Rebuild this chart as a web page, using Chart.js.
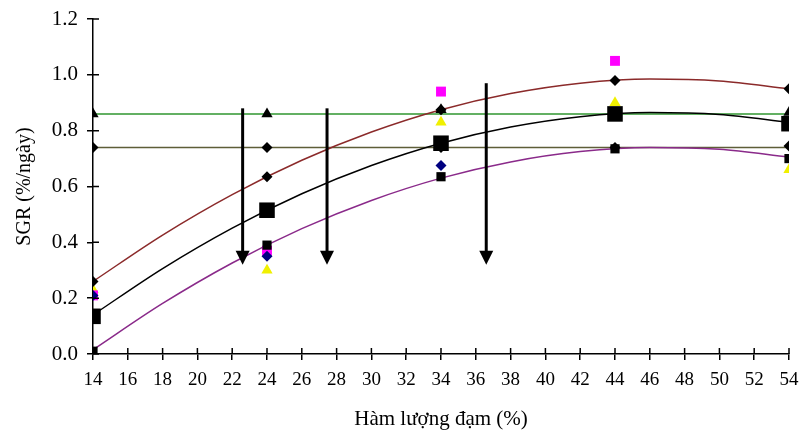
<!DOCTYPE html>
<html>
<head>
<meta charset="utf-8">
<script src="https://cdn.jsdelivr.net/npm/chart.js@4/dist/chart.umd.min.js"></script>
<style>
    html, body { margin: 0; padding: 0; background: #fff; overflow: hidden; }
    canvas { display: block; }
</style>
</head>
<body>
<canvas id="sgrChart" width="800" height="434"></canvas>
<script>
// Protein levels tested (%)
const proteinLevels = [14, 24, 34, 44, 54];

// Measured SGR points, one array per marker style
const blackDiamonds = [0.26, 0.635, 0.875, 0.98, 0.95];
const bigSquares = [0.135, 0.515, 0.755, 0.86, 0.825];
const smallSquares = [0.01, 0.39, 0.635, 0.735, 0.70];
const magentaSquares = [0.21, 0.37, 0.94, 1.05, null];
const yellowTriangles = [0.23, 0.30, 0.83, 0.90, 0.66];
const blueDiamonds = [0.21, 0.35, 0.675, null, null];
const plateauTriangles = [0.86, 0.86, 0.875, 0.86, 0.865];
const plateauDiamonds = [0.74, 0.74, 0.74, 0.74, 0.745];

// Fitted curves
const curveX = [14, 18, 22, 26, 30, 34, 38, 42, 46, 50, 54];
const upperCurve = [0.26, 0.426, 0.571, 0.694, 0.795, 0.875, 0.933, 0.970, 0.985, 0.978, 0.95];
const middleCurve = [0.14, 0.306, 0.451, 0.574, 0.675, 0.755, 0.813, 0.850, 0.865, 0.858, 0.83];
const lowerCurve = [0.015, 0.181, 0.326, 0.449, 0.550, 0.630, 0.688, 0.725, 0.740, 0.733, 0.705];

// Horizontal plateau lines
const plateauHigh = 0.86;
const plateauLow = 0.74;

// Down arrows: x position, top and tip (SGR units)
const arrowX = [22.6, 27.45, 36.6];
const arrowTop = [0.88, 0.88, 0.97];
const arrowTip = [0.32, 0.32, 0.32];

const serif = '"Liberation Serif", "Times New Roman", serif';

function toPoints(xs, ys) {
    return xs.map((x, i) => ({ x: x, y: ys[i] }));
}

function markerSet(values, style, radius, color) {
    return {
        data: toPoints(proteinLevels, values),
        showLine: false,
        pointStyle: style,
        pointRadius: radius,
        pointBackgroundColor: color,
        pointBorderColor: color,
        pointBorderWidth: 0
    };
}

function lineSet(xs, ys, color, width) {
    return {
        data: toPoints(xs, ys),
        showLine: true,
        borderColor: color,
        borderWidth: width,
        pointRadius: 0,
        tension: 0.4,
        cubicInterpolationMode: 'monotone',
        fill: false
    };
}

// Inner tick halves and the arrows
const extrasPlugin = {
    id: 'extras',
    afterDatasetsDraw(chart) {
        const { ctx, scales: { x, y } } = chart;
        ctx.save();
        ctx.strokeStyle = '#000';
        ctx.lineWidth = 1.5;
        ctx.beginPath();
        y.ticks.forEach(t => {
            const py = y.getPixelForValue(t.value);
            ctx.moveTo(x.left, py);
            ctx.lineTo(x.left + 6, py);
        });
        x.ticks.forEach(t => {
            const px = x.getPixelForValue(t.value);
            ctx.moveTo(px, y.bottom);
            ctx.lineTo(px, y.bottom - 6);
        });
        ctx.stroke();

        ctx.fillStyle = '#000';
        ctx.lineWidth = 3;
        arrowX.forEach((ax, i) => {
            const px = x.getPixelForValue(ax);
            const top = y.getPixelForValue(arrowTop[i]);
            const tip = y.getPixelForValue(arrowTip[i]);
            ctx.beginPath();
            ctx.moveTo(px, top);
            ctx.lineTo(px, tip - 10);
            ctx.stroke();
            ctx.beginPath();
            ctx.moveTo(px - 7, tip - 14);
            ctx.lineTo(px + 7, tip - 14);
            ctx.lineTo(px, tip);
            ctx.closePath();
            ctx.fill();
        });
        ctx.restore();
    }
};

document.addEventListener('DOMContentLoaded', function() {
    const ctx = document.getElementById('sgrChart').getContext('2d');
    new Chart(ctx, {
        type: 'scatter',
        data: {
            datasets: [
                // markers first so they sit on top of the lines
                markerSet(plateauTriangles, 'triangle', 6.5, '#000'),
                markerSet(blackDiamonds, 'rectRot', 5.5, '#000'),
                markerSet(bigSquares, 'rect', 11, '#000'),
                markerSet(smallSquares, 'rect', 6.5, '#000'),
                markerSet(plateauDiamonds, 'rectRot', 5.5, '#000'),
                markerSet(blueDiamonds, 'rectRot', 5.5, '#000080'),
                markerSet(magentaSquares, 'rect', 7, '#ff00ff'),
                markerSet(yellowTriangles, 'triangle', 6.5, '#f0f000'),
                lineSet(curveX, upperCurve, '#8b2a2a', 1.5),
                lineSet(curveX, middleCurve, '#000', 1.5),
                lineSet(curveX, lowerCurve, '#8a2a8a', 1.5),
                lineSet([14, 54], [plateauHigh, plateauHigh], '#2f962f', 1.5),
                lineSet([14, 54], [plateauLow, plateauLow], '#5e5e38', 1.5)
            ]
        },
        options: {
            responsive: false,
            animation: false,
            layout: { padding: { top: 19, right: 11, left: 0, bottom: 0 } },
            plugins: {
                legend: { display: false },
                tooltip: { enabled: false }
            },
            scales: {
                x: {
                    type: 'linear',
                    min: 14,
                    max: 54,
                    afterFit: function(scale) {
                        scale.height = 80;
                        scale.paddingLeft = 0;
                        scale.paddingRight = 0;
                    },
                    grid: { drawOnChartArea: false, color: '#000', lineWidth: 1.5, tickLength: 6 },
                    border: { color: '#000', width: 1.5 },
                    ticks: {
                        stepSize: 2,
                        autoSkip: false,
                        maxRotation: 0,
                        padding: 9,
                        color: '#000',
                        font: { family: serif, size: 19 }
                    },
                    title: {
                        display: true,
                        text: 'Hàm lượng đạm (%)',
                        color: '#000',
                        font: { family: serif, size: 21 },
                        padding: { top: 0, bottom: 2 }
                    }
                },
                y: {
                    min: 0,
                    max: 1.2,
                    afterFit: function(scale) {
                        scale.width = 93;
                        scale.paddingTop = 0;
                        scale.paddingBottom = 0;
                    },
                    grid: { drawOnChartArea: false, color: '#000', lineWidth: 1.5, tickLength: 6 },
                    border: { color: '#000', width: 1.5 },
                    ticks: {
                        stepSize: 0.2,
                        padding: 9,
                        color: '#000',
                        font: { family: serif, size: 21 },
                        callback: function(value) { return value.toFixed(1); }
                    },
                    title: {
                        display: true,
                        text: 'SGR (%/ngày)',
                        color: '#000',
                        font: { family: serif, size: 20 },
                        padding: { top: 13, bottom: 0 }
                    }
                }
            }
        },
        plugins: [extrasPlugin]
    });
});
</script>
</body>
</html>
